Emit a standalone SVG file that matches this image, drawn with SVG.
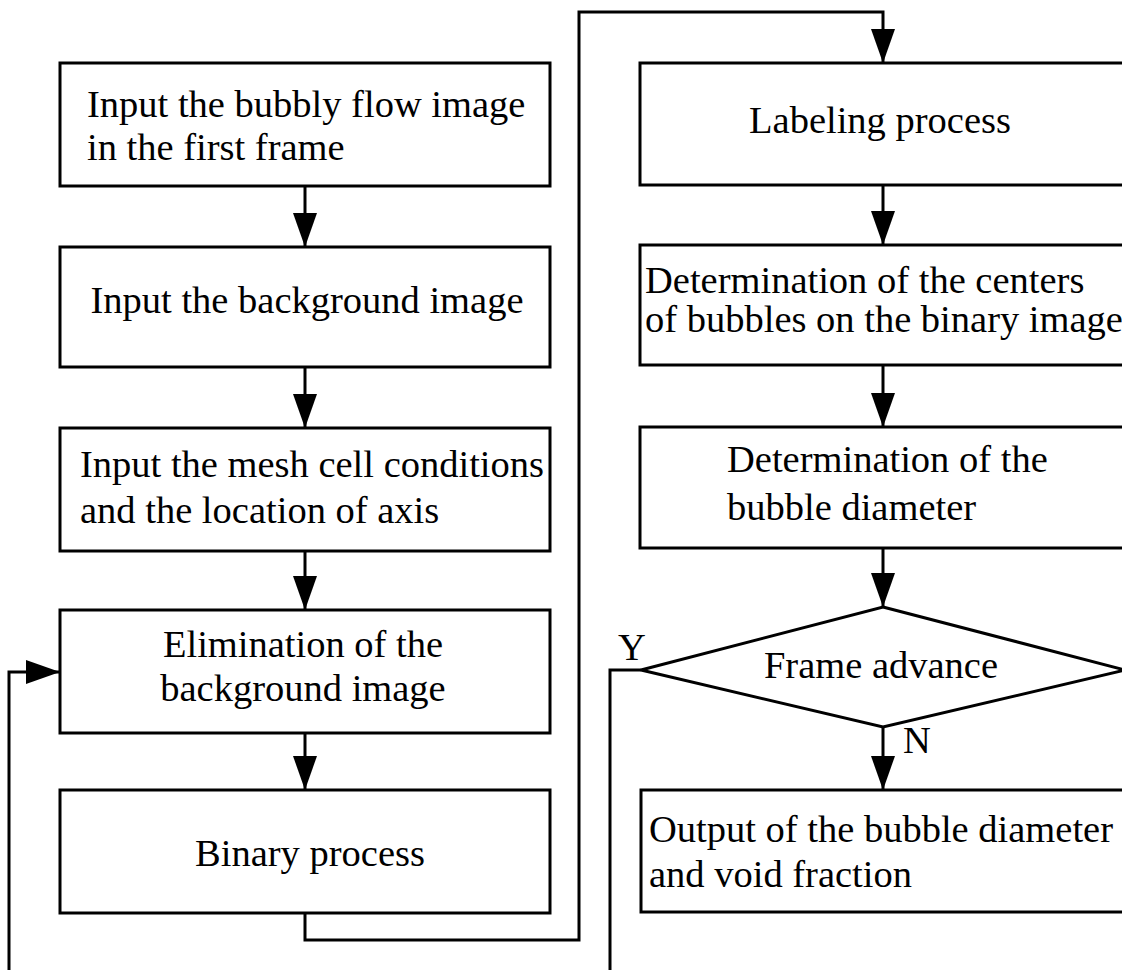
<svg xmlns="http://www.w3.org/2000/svg" width="1122" height="970" viewBox="0 0 1122 970">
<defs>
<style>
.box{fill:#fff;stroke:#000;stroke-width:3}
.ln{fill:none;stroke:#000;stroke-width:3}
.t{font-family:"Liberation Serif","Times New Roman",serif;font-size:38.5px;fill:#000}
.c{text-anchor:middle}
</style>
<marker id="ah" markerUnits="userSpaceOnUse" markerWidth="34" markerHeight="24" refX="34" refY="12" viewBox="0 0 34 24" orient="auto">
<path d="M0,0 L34,12 L0,24 Z" fill="#000"/>
</marker>
</defs>
<rect width="1122" height="970" fill="#fff"/>
<g id="connectors">
<path class="ln" d="M305,186 V247" marker-end="url(#ah)"/>
<path class="ln" d="M305,367 V428" marker-end="url(#ah)"/>
<path class="ln" d="M305,551 V610" marker-end="url(#ah)"/>
<path class="ln" d="M305,733 V790" marker-end="url(#ah)"/>
<path class="ln" d="M305,913 V940 H579 V12 H883 V63" marker-end="url(#ah)"/>
<path class="ln" d="M883,185 V245" marker-end="url(#ah)"/>
<path class="ln" d="M883,365 V427" marker-end="url(#ah)"/>
<path class="ln" d="M883,548 V607" marker-end="url(#ah)"/>
<path class="ln" d="M883,727 V790" marker-end="url(#ah)"/>
<path class="ln" d="M641,670 H610 V970"/>
<path class="ln" d="M9,970 V672 H60" marker-end="url(#ah)"/>
<text class="t" x="618" y="660" font-size="35">Y</text>
<text class="t" x="903" y="753" font-size="35">N</text>
</g>
<g id="n1"><rect class="box" x="60" y="63" width="490" height="123"/>
<text class="t" x="87" y="117">Input the bubbly flow image</text>
<text class="t" x="87" y="160">in the first frame</text></g>
<g id="n2"><rect class="box" x="60" y="247" width="490" height="120"/>
<text class="t c" x="307" y="313">Input the background image</text></g>
<g id="n3"><rect class="box" x="60" y="428" width="490" height="123"/>
<text class="t" x="80" y="477">Input the mesh cell conditions</text>
<text class="t" x="80" y="523">and the location of axis</text></g>
<g id="n4"><rect class="box" x="60" y="610" width="490" height="123"/>
<text class="t c" x="303" y="657">Elimination of the</text>
<text class="t c" x="303" y="701">background image</text></g>
<g id="n5"><rect class="box" x="60" y="790" width="490" height="123"/>
<text class="t c" x="310" y="866">Binary process</text></g>
<g id="n6"><rect class="box" x="640" y="63" width="500" height="122"/>
<text class="t c" x="880" y="133">Labeling process</text></g>
<g id="n7"><rect class="box" x="640" y="245" width="500" height="120"/>
<text class="t" x="645" y="293">Determination of the centers</text>
<text class="t" x="645" y="332">of bubbles on the binary image</text></g>
<g id="n8"><rect class="box" x="640" y="427" width="500" height="121"/>
<text class="t" x="727" y="472">Determination of the</text>
<text class="t" x="727" y="520">bubble diameter</text></g>
<g id="n9"><path class="box" d="M883,607 L1125,670 L883,727 L641,670 Z"/>
<text class="t c" x="881" y="678">Frame advance</text></g>
<g id="n10"><rect class="box" x="641" y="790" width="500" height="122"/>
<text class="t" x="649" y="842">Output of the bubble diameter</text>
<text class="t" x="649" y="887">and void fraction</text></g>
</svg>
